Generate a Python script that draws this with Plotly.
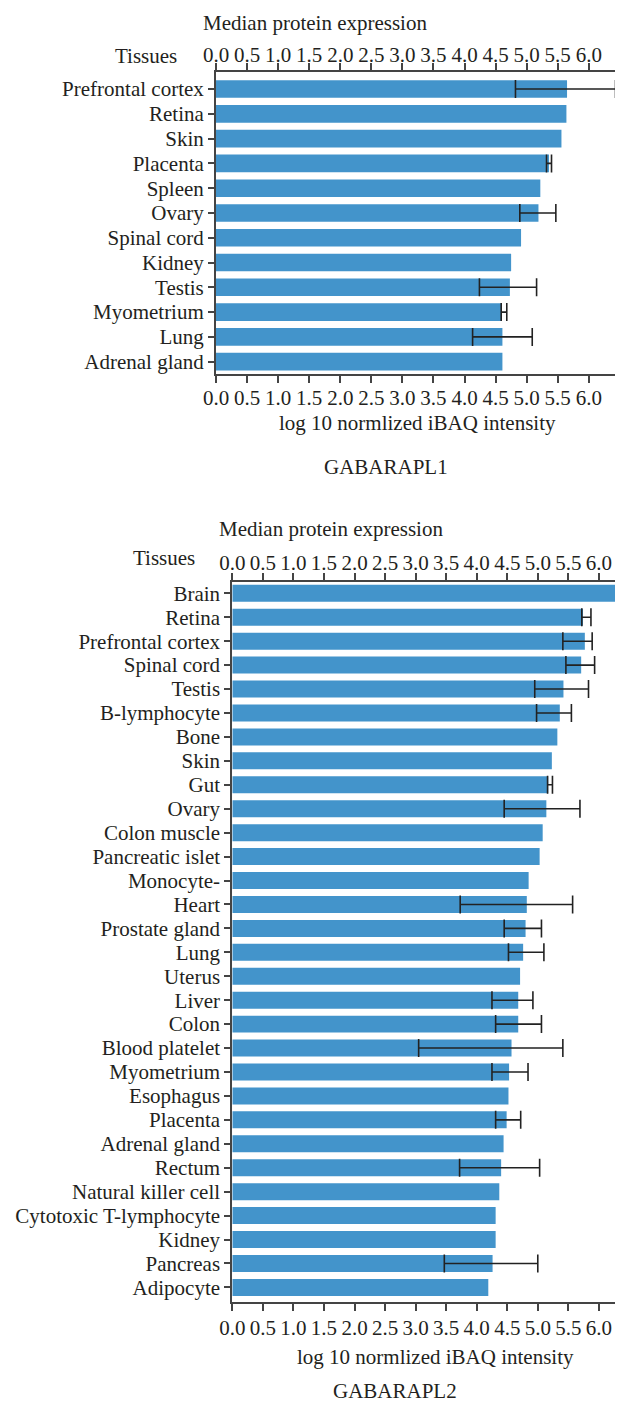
import plotly.graph_objects as go

# The page body has an 8px default margin: the figure is sized and placed for it.
PAGE_W, PAGE_H = 623, 1403
OFF = 8
W, H = PAGE_W - OFF, PAGE_H - OFF

# ---------------- data ----------------
tissues1 = ["Prefrontal cortex", "Retina", "Skin", "Placenta", "Spleen", "Ovary",
            "Spinal cord", "Kidney", "Testis", "Myometrium", "Lung", "Adrenal gland"]
values1 = [5.65, 5.64, 5.56, 5.36, 5.22, 5.19, 4.91, 4.75, 4.73, 4.60, 4.61, 4.61]
err_low1 = [4.82, None, None, 5.32, None, 4.89, None, None, 4.24, 4.59, 4.13, None]
err_high1 = [6.43, None, None, 5.40, None, 5.47, None, None, 5.16, 4.68, 5.09, None]

tissues2 = ["Brain", "Retina", "Prefrontal cortex", "Spinal cord", "Testis", "B-lymphocyte",
            "Bone", "Skin", "Gut", "Ovary", "Colon muscle", "Pancreatic islet", "Monocyte-",
            "Heart", "Prostate gland", "Lung", "Uterus", "Liver", "Colon", "Blood platelet",
            "Myometrium", "Esophagus", "Placenta", "Adrenal gland", "Rectum",
            "Natural killer cell", "Cytotoxic T-lymphocyte", "Kidney", "Pancreas", "Adipocyte"]
values2 = [6.33, 5.74, 5.77, 5.71, 5.42, 5.36, 5.32, 5.23, 5.17, 5.14, 5.08, 5.03, 4.85,
           4.82, 4.80, 4.76, 4.71, 4.68, 4.68, 4.57, 4.53, 4.52, 4.49, 4.44, 4.40, 4.37,
           4.31, 4.31, 4.26, 4.19]
err_low2 = [6.28, 5.72, 5.41, 5.46, 4.95, 4.98, None, None, 5.16, 4.45, None, None, None,
            3.73, 4.45, 4.52, None, 4.25, 4.31, 3.05, 4.25, None, 4.31, None, 3.72, None,
            None, None, 3.47, None]
err_high2 = [6.38, 5.87, 5.89, 5.93, 5.83, 5.55, None, None, 5.24, 5.69, None, None, None,
             5.57, 5.06, 5.10, None, 4.92, 5.06, 5.41, 4.84, None, 4.72, None, 5.03, None,
             None, None, 5.00, None]

tick_values = [0.0, 0.5, 1.0, 1.5, 2.0, 2.5, 3.0, 3.5, 4.0, 4.5, 5.0, 5.5, 6.0]
tick_labels = ["0.0", "0.5", "1.0", "1.5", "2.0", "2.5", "3.0", "3.5", "4.0", "4.5",
               "5.0", "5.5", "6.0"]

panel_titles = ["GABARAPL1", "GABARAPL2"]
top_title = "Median protein expression"
y_title = "Tissues"
x_title = "log 10 normlized iBAQ intensity"

# ---------------- style ----------------
FONT = "Liberation Serif, Times New Roman, serif"
FS = 21
TXT = "#231f20"
BAR = "#4394cb"
LINE = "#444444"
ERR = "#222222"

xmax1, xmax2 = 6.43, 6.37

def px_x(p):
    return (p - OFF) / W

def px_y(p):
    return 1 - (p - OFF) / H

fig = go.Figure()

def add_panel(tissues, values, lo, hi, xa, xa_top, ya):
    fig.add_trace(go.Bar(x=values, y=tissues, orientation="h", marker_color=BAR,
                         marker_line_width=0, xaxis=xa, yaxis=ya, showlegend=False))
    ex, ey, ep, em = [], [], [], []
    for t, v, l, h in zip(tissues, values, lo, hi):
        if l is None:
            continue
        ex.append(v)
        ey.append(t)
        ep.append(h - v)
        em.append(v - l)
    fig.add_trace(go.Scatter(x=ex, y=ey, mode="markers", marker=dict(size=1, opacity=0),
                             error_x=dict(type="data", symmetric=False, array=ep,
                                          arrayminus=em, color=ERR, thickness=1.6, width=9),
                             xaxis=xa_top, yaxis=ya, showlegend=False, cliponaxis=False,
                             hoverinfo="skip"))

add_panel(tissues1, values1, err_low1, err_high1, "x", "x3", "y")
add_panel(tissues2, values2, err_low2, err_high2, "x2", "x4", "y2")

def xaxis_cfg(dom, rng, anchor, side, overlay=None, standoff=0):
    tv = tick_values + [rng[1]]
    tt = tick_labels + [""]
    d = dict(domain=dom, range=rng, anchor=anchor, side=side, tickmode="array",
             tickvals=tv, ticktext=tt, ticks="outside", ticklen=7, tickwidth=1.6,
             tickcolor=LINE, showline=True, linewidth=2, linecolor=LINE, showgrid=False,
             zeroline=False, automargin=False, fixedrange=True,
             ticklabelstandoff=standoff,
             tickfont=dict(family=FONT, size=FS, color=TXT))
    if overlay:
        d["overlaying"] = overlay
    return d

def yaxis_cfg(dom, cats, rng, anchor):
    return dict(domain=dom, type="category", categoryorder="array", categoryarray=cats,
                tickmode="array", tickvals=cats, ticktext=cats,
                range=rng, anchor=anchor, ticks="outside", ticklen=6, tickwidth=1.6,
                tickcolor=LINE, showline=True, linewidth=2, linecolor=LINE, showgrid=False,
                zeroline=False, automargin=False, fixedrange=True,
                tickfont=dict(family=FONT, size=FS, color=TXT))

x1dom = [px_x(216), px_x(615.5)]
x2dom = [px_x(232.3), px_x(621.5)]
y1dom = [px_y(374.3), px_y(71.7)]
y2dom = [px_y(1302), px_y(582.3)]

annots = []
def ann(text, x, y, xanchor="center"):
    annots.append(dict(text=text, x=px_x(x), y=px_y(y), xref="paper", yref="paper",
                       xanchor=xanchor, yanchor="middle", showarrow=False,
                       font=dict(family=FONT, size=FS, color=TXT)))

ann(top_title, 315, 23)
ann(y_title, 179, 56, "right")
ann(x_title, 417, 423)
ann(panel_titles[0], 386, 467)

ann(top_title, 331, 529)
ann(y_title, 197, 558, "right")
ann(x_title, 435, 1357)
ann(panel_titles[1], 395, 1391)

fig.update_layout(
    width=W, height=H,
    margin=dict(l=0, r=0, t=0, b=0),
    paper_bgcolor="white", plot_bgcolor="white",
    bargap=0.29,
    xaxis=xaxis_cfg(x1dom, [0, xmax1], "y", "bottom", standoff=-4),
    xaxis3=xaxis_cfg(x1dom, [0, xmax1], "y", "top", overlay="x", standoff=-8),
    yaxis=yaxis_cfg(y1dom, tissues1, [11.51, -0.70], "x"),
    xaxis2=xaxis_cfg(x2dom, [0, xmax2], "y2", "bottom", standoff=-1),
    xaxis4=xaxis_cfg(x2dom, [0, xmax2], "y2", "top", overlay="x2", standoff=-5),
    yaxis2=yaxis_cfg(y2dom, tissues2, [29.61, -0.46], "x2"),
    annotations=annots,
    font=dict(family=FONT, size=FS, color=TXT),
)

fig.write_html("out.html")
